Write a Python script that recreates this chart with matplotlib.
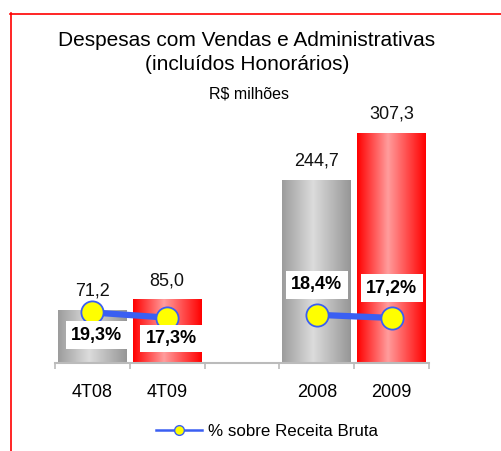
import numpy as np
import matplotlib
matplotlib.use("Agg")
import matplotlib.pyplot as plt
from matplotlib.colors import LinearSegmentedColormap
from matplotlib.lines import Line2D

categories = ["4T08", "4T09", "", "2008", "2009"]
values = [71.2, 85.0, np.nan, 244.7, 307.3]
value_labels = ["71,2", "85,0", "", "244,7", "307,3"]
pct = [19.3, 17.3, np.nan, 18.4, 17.2]
pct_labels = ["19,3%", "17,3%", "", "18,4%", "17,2%"]
bar_kind = ["gray", "red", None, "gray", "red"]

plt.rcParams['font.family'] = ['Liberation Sans', 'DejaVu Sans']

fig = plt.figure(figsize=(5.01, 4.51), dpi=100)
ax = fig.add_axes([55/501, 88/451, 374/501, 262/451])
ax2 = ax.twinx()

cmaps = {
    "gray": LinearSegmentedColormap.from_list("g", [(0, "#9c9c9c"), (0.45, "#dcdcdc"), (1, "#969696")]),
    "red": LinearSegmentedColormap.from_list("r", [(0, "#ff0000"), (0.45, "#ff9c9c"), (1, "#ff0000")]),
}
x = np.arange(len(categories))
grad = np.linspace(0, 1, 256).reshape(1, -1)
for xi, v, kind in zip(x, values, bar_kind):
    if kind is None or np.isnan(v):
        continue
    b = ax.bar(xi, v, width=0.92, color="none", edgecolor="none")[0]
    im = ax.imshow(grad, cmap=cmaps[kind], aspect="auto",
                   extent=[xi - 0.46, xi + 0.46, 0, v], zorder=2)
    im.set_clip_path(b)

for xi, v, lab in zip(x, values, value_labels):
    if lab:
        ax.annotate(lab, (xi, v), xytext=(0, 13.5), textcoords="offset points",
                    ha="center", va="center", fontsize=13, color="#111111")

ax.set_xlim(-0.5, 4.5)
ax.set_ylim(0, 350)
ax.set_xticks(np.arange(-0.5, 5.0, 1.0))
ax.set_xticklabels([])
ax.set_xticks(x, minor=True)
ax.set_xticklabels(categories, minor=True, fontsize=13)
ax.tick_params(axis="x", which="major", length=4, color="#bbbbbb", width=1.2)
ax.tick_params(axis="x", which="minor", length=0, pad=15)
ax.tick_params(axis="y", left=False, labelleft=False)
for s in ["top", "left", "right"]:
    ax.spines[s].set_visible(False)
ax.spines["bottom"].set_color("#bbbbbb")
ax.spines["bottom"].set_linewidth(1.5)

ax2.plot(x, pct, color="#3a5ff2", lw=4.5, marker="o", markersize=16,
         markerfacecolor="#ffff00", markeredgecolor="#3a5ff2", markeredgewidth=1.3, zorder=3)
ax2.set_ylim(0, 100)
ax2.axis("off")
offsets = [(3, -16.5), (3, -15), (0, 0), (0, 21.5), (0, 21.5)]
for xi, p, lab, off in zip(x, pct, pct_labels, offsets):
    if lab:
        ax2.annotate(lab, (xi, p), xytext=off, textcoords="offset points",
                     ha="center", va="center", fontsize=13, fontweight="bold",
                     color="black", zorder=5,
                     bbox=dict(boxstyle="square,pad=0.3", fc="white", ec="none"))

handle = Line2D([], [], color="#3a5ff2", lw=1.8, marker="o", markersize=7,
                markerfacecolor="#ffff00", markeredgecolor="#3a5ff2")
fig.legend([handle], ["% sobre Receita Bruta"], loc="center",
           bbox_to_anchor=(267/501, 1 - 431/451), frameon=False, fontsize=12.2,
           handlelength=2.7, handletextpad=0.35)

fig.text(247/501, 1 - 41/451, "Despesas com Vendas e Administrativas",
         ha="center", va="center", fontsize=15)
fig.text(247/501, 1 - 64/451, "(incluídos Honorários)",
         ha="center", va="center", fontsize=15)
fig.text(249/501, 1 - 94/451, "R$ milhões",
         ha="center", va="center", fontsize=11.5)

fig.add_artist(Line2D([10.5/501, 10.5/501], [0, 1 - 13/451], color="#ff0000", lw=1.2, transform=fig.transFigure))
fig.add_artist(Line2D([10/501, 1], [1 - 13.5/451, 1 - 13.5/451], color="#ff0000", lw=1.2, transform=fig.transFigure))

fig.savefig("out.png", dpi=100)
